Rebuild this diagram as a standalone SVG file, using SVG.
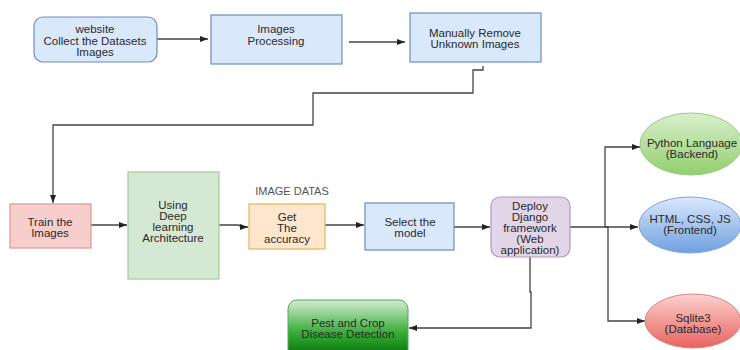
<svg xmlns="http://www.w3.org/2000/svg" width="740" height="350" viewBox="0 0 740 350">
<style>
text{font-family:"Liberation Sans",Arial,sans-serif;font-size:11.5px;fill:#2a2a2a;text-anchor:middle}
.blue{fill:#dae8fc;stroke:#6c8ebf;stroke-width:1.2}
.conn{fill:none;stroke:#444;stroke-width:1.3}
.lbl{fill:#555;font-size:11px}
</style>
<defs>
<marker id="ah" markerWidth="8" markerHeight="6" refX="8" refY="3" orient="auto" markerUnits="userSpaceOnUse">
<path d="M0,0 L8,3 L0,6 z" fill="#222"/>
</marker>
<linearGradient id="gPest" x1="0" y1="0" x2="0" y2="1">
<stop offset="0" stop-color="#d5ecd2"/>
<stop offset="0.55" stop-color="#3aae3a"/>
<stop offset="1" stop-color="#006e00"/>
</linearGradient>
<linearGradient id="gPy" x1="0" y1="0" x2="0" y2="1">
<stop offset="0" stop-color="#d9efcd"/>
<stop offset="1" stop-color="#93cf6e"/>
</linearGradient>
<linearGradient id="gHt" x1="0" y1="0" x2="0" y2="1">
<stop offset="0" stop-color="#dce9fc"/>
<stop offset="1" stop-color="#6f9fe0"/>
</linearGradient>
<linearGradient id="gSq" x1="0" y1="0" x2="0" y2="1">
<stop offset="0" stop-color="#fbd2d0"/>
<stop offset="1" stop-color="#e9625d"/>
</linearGradient>
</defs>

<g id="connectors">
<path class="conn" d="M157,39 H208" marker-end="url(#ah)"/>
<path class="conn" d="M349,42 H405" marker-end="url(#ah)"/>
<path class="conn" d="M483,66 V70 H473 V93 H313 V125 H53 V203" marker-end="url(#ah)"/>
<path class="conn" d="M91,225 H127" marker-end="url(#ah)"/>
<path class="conn" d="M219,225 H239 L241,227 H248" marker-end="url(#ah)"/>
<path class="conn" d="M325,225 H364" marker-end="url(#ah)"/>
<path class="conn" d="M454,227 H490" marker-end="url(#ah)"/>
<path class="conn" d="M570,227 H605 V147 H640" marker-end="url(#ah)"/>
<path class="conn" d="M605,227 H638" marker-end="url(#ah)"/>
<path class="conn" d="M605,227 H608 V321 H645" marker-end="url(#ah)"/>
<path class="conn" d="M530,257 V292 H531 V328 H409" marker-end="url(#ah)"/>
</g>

<g id="n-website">
<rect class="blue" x="34" y="17" width="123" height="45" rx="9"/>
<text x="95" y="33">website</text>
<text x="95" y="44.5">Collect the Datasets</text>
<text x="95" y="56">Images</text>
</g>

<g id="n-processing">
<rect class="blue" x="211" y="15" width="131" height="49"/>
<text x="276" y="33">Images</text>
<text x="276" y="44.5">Processing</text>
</g>

<g id="n-remove">
<rect class="blue" x="410" y="13" width="131" height="49"/>
<text x="475" y="37">Manually Remove</text>
<text x="475" y="48">Unknown Images</text>
</g>

<g id="n-train">
<rect x="10" y="204" width="81" height="44" fill="#f8cecc" stroke="#d79a96" stroke-width="1.2"/>
<text x="50" y="226">Train the</text>
<text x="50" y="237">Images</text>
</g>

<g id="n-deep">
<rect x="128" y="172" width="91" height="107" fill="#d5e8d4" stroke="#a5cc97" stroke-width="1.2"/>
<text x="173" y="209">Using</text>
<text x="173" y="220">Deep</text>
<text x="173" y="231">learning</text>
<text x="173" y="242">Architecture</text>
</g>

<g id="lbl-imagedatas">
<text class="lbl" x="292" y="195">IMAGE DATAS</text>
</g>

<g id="n-accuracy">
<rect x="249" y="204" width="76" height="45" fill="#ffe6cc" stroke="#e3b45f" stroke-width="1.2"/>
<text x="287" y="221">Get</text>
<text x="287" y="232">The</text>
<text x="287" y="243">accuracy</text>
</g>

<g id="n-select">
<rect class="blue" x="365" y="203" width="89" height="47"/>
<text x="410" y="226">Select the</text>
<text x="410" y="237">model</text>
</g>

<g id="n-deploy">
<rect x="491" y="197" width="79" height="60" rx="9" fill="#e1d5e7" stroke="#b199be" stroke-width="1.2"/>
<text x="530" y="210">Deploy</text>
<text x="530" y="221">Django</text>
<text x="530" y="232">framework</text>
<text x="530" y="243">(Web</text>
<text x="530" y="254">application)</text>
</g>

<g id="n-pest">
<rect x="288" y="300" width="120" height="58" rx="9" fill="url(#gPest)" stroke="#5aa55a" stroke-width="1"/>
<text x="348" y="327" fill="#123312">Pest and Crop</text>
<text x="348" y="338" fill="#123312">Disease Detection</text>
</g>

<g id="n-python">
<ellipse cx="691" cy="144" rx="51" ry="31" fill="url(#gPy)" stroke="#9ccc86" stroke-width="1"/>
<text x="692" y="147">Python Language</text>
<text x="692" y="158">(Backend)</text>
</g>

<g id="n-html">
<ellipse cx="690" cy="225" rx="51" ry="28" fill="url(#gHt)" stroke="#7fa3d8" stroke-width="1"/>
<text x="690" y="223">HTML, CSS, JS</text>
<text x="690" y="234">(Frontend)</text>
</g>

<g id="n-sqlite">
<ellipse cx="693" cy="321" rx="48" ry="27" fill="url(#gSq)" stroke="#d98582" stroke-width="1"/>
<text x="693" y="322">Sqlite3</text>
<text x="693" y="333">(Database)</text>
</g>
</svg>
